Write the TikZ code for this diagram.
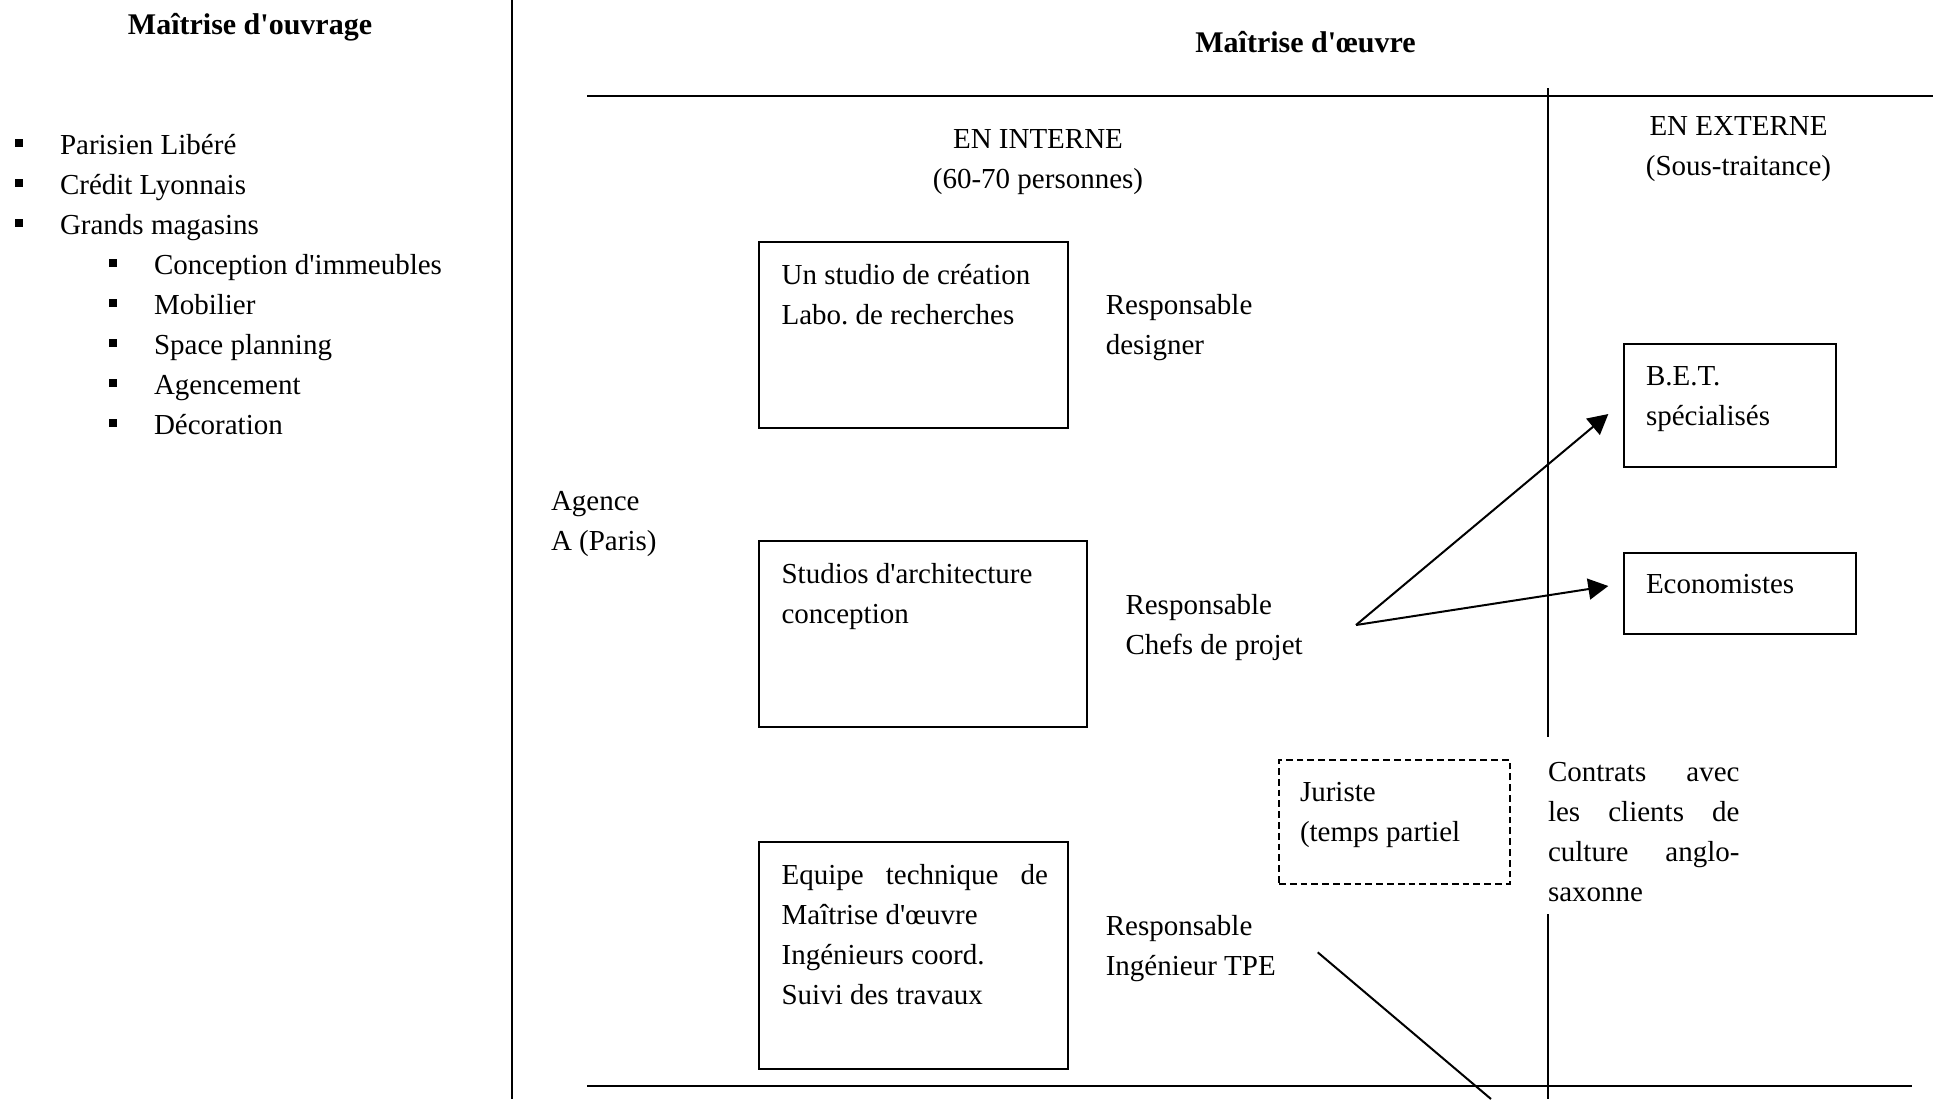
\documentclass[tikz,border=0pt]{standalone}
\usepackage{fontspec}
\setmainfont{Liberation Serif}[Ligatures=TeXOff]
\usetikzlibrary{arrows.meta}
\frenchspacing
\newcommand\bodyfont{\fontsize{14.5}{20}\selectfont}
\newcommand\headfont{\fontsize{15}{20}\selectfont\bfseries}
\begin{document}
\begin{tikzpicture}[x=0.5pt,y=-0.5pt,
  every node/.style={inner sep=0pt, outer sep=0pt},
  lbl/.style={anchor=base west, font=\bodyfont},
  ml/.style={anchor=north west, align=left, font=\bodyfont, execute at begin node=\strut},
  head/.style={anchor=base, font=\headfont},
  ctr/.style={anchor=north, align=center, font=\bodyfont, execute at begin node=\strut},
  boxst/.style={draw, line width=1pt, anchor=north west},
  dbox/.style={boxst, dash pattern=on 3.4pt off 2pt},
  bul/.style={fill=black, minimum size=4pt, anchor=center},
  rule/.style={line width=1pt},
  arr/.style={line width=1pt, -{Triangle[length=10pt,width=10.5pt]}}]
\useasboundingbox (0,0) rectangle (1933,1099);

% frame lines
\coordinate (lv1) at (511.7,0);    \coordinate (lv2) at (511.7,1099);
\coordinate (th1) at (587,95.5);   \coordinate (th2) at (1933,95.5);
\coordinate (bh1) at (587,1086);   \coordinate (bh2) at (1912,1086);
\coordinate (rv1) at (1548,88);    \coordinate (rv2) at (1548,737);
\coordinate (rv3) at (1548,914);   \coordinate (rv4) at (1548,1099);
\draw[rule] (lv1) -- (lv2);
\draw[rule] (th1) -- (th2);
\draw[rule] (bh1) -- (bh2);
\draw[rule] (rv1) -- (rv2);
\draw[rule] (rv3) -- (rv4);

% headings
\node[head] (h1) at (250,34) {Maîtrise d'ouvrage};
\node[head] (h2) at (1305.5,52) {Maîtrise d'œuvre};

% list
\node[bul] (b1) at (19,143.3) {};  \node[lbl] (l1) at (60,154) {Parisien Libéré};
\node[bul] (b2) at (19,183.3) {};  \node[lbl] (l2) at (60,194) {Crédit Lyonnais};
\node[bul] (b3) at (19,223.3) {};  \node[lbl] (l3) at (60,234) {Grands magasins};
\node[bul] (b4) at (113.3,263.3) {}; \node[lbl] (l4) at (154,274) {Conception d'immeubles};
\node[bul] (b5) at (113.3,303.3) {}; \node[lbl] (l5) at (154,314) {Mobilier};
\node[bul] (b6) at (113.3,343.3) {}; \node[lbl] (l6) at (154,354) {Space planning};
\node[bul] (b7) at (113.3,383.3) {}; \node[lbl] (l7) at (154,394) {Agencement};
\node[bul] (b8) at (113.3,423.3) {}; \node[lbl] (l8) at (154,434) {Décoration};

% column titles
\node[ctr] (int) at (1038,130) {EN INTERNE\\(60-70 personnes)};
\node[ctr] (ext) at (1738.5,117) {EN EXTERNE\\(Sous-traitance)};

% boxes
\node[boxst, minimum width=154.1pt, minimum height=93.1pt] (box1) at (759.4,241.6) {};
\node[boxst, minimum width=163.95pt, minimum height=93.1pt] (box2) at (759.4,541.2) {};
\node[boxst, minimum width=154.1pt, minimum height=113.45pt] (box3) at (759.4,842) {};
\node[dbox, minimum width=115.5pt, minimum height=62pt] (jbox) at (1279,760) {};
\node[boxst, minimum width=106.1pt, minimum height=61.65pt] (bet) at (1623.5,344) {};
\node[boxst, minimum width=116pt, minimum height=40.65pt] (eco) at (1623.5,552.7) {};

% texts
\node[ml] (t1) at (781.6,264) {Un studio de création\\Labo. de recherches};
\node[ml] (r1) at (1105.8,294.5) {Responsable\\designer};
\node[ml] (ag) at (551,491) {Agence\\A (Paris)};
\node[ml] (t2) at (781.6,563) {Studios d'architecture\\conception};
\node[ml] (r2) at (1125.5,594) {Responsable\\Chefs de projet};
\node[ml] (jt) at (1300,782) {Juriste\\(temps partiel};
\node[ml] (ct) at (1548,762) {\makebox[95.75pt][s]{Contrats avec}\\\makebox[95.75pt][s]{les clients de}\\\makebox[95.75pt][s]{culture anglo-}\\saxonne};
\node[ml] (t3) at (781.6,864) {\makebox[133.2pt][s]{Equipe technique de}\\Maîtrise d'œuvre\\Ingénieurs coord.\\Suivi des travaux};
\node[ml] (r3) at (1105.8,915) {Responsable\\Ingénieur TPE};
\node[ml] (bt) at (1646,367) {B.E.T.\\spécialisés};
\node[lbl] (et) at (1646,593) {Economistes};

% connectors
\coordinate (o) at (1356,625);
\coordinate (tip1) at (1608.3,414);
\coordinate (tip2) at (1608.3,586);
\draw[arr] (o) -- (tip1);
\draw[arr] (o) -- (tip2);
\coordinate (p1) at (1317.7,952.3);
\coordinate (p2) at (1491,1099);
\draw[rule] (p1) -- (p2);
\end{tikzpicture}
\end{document}
